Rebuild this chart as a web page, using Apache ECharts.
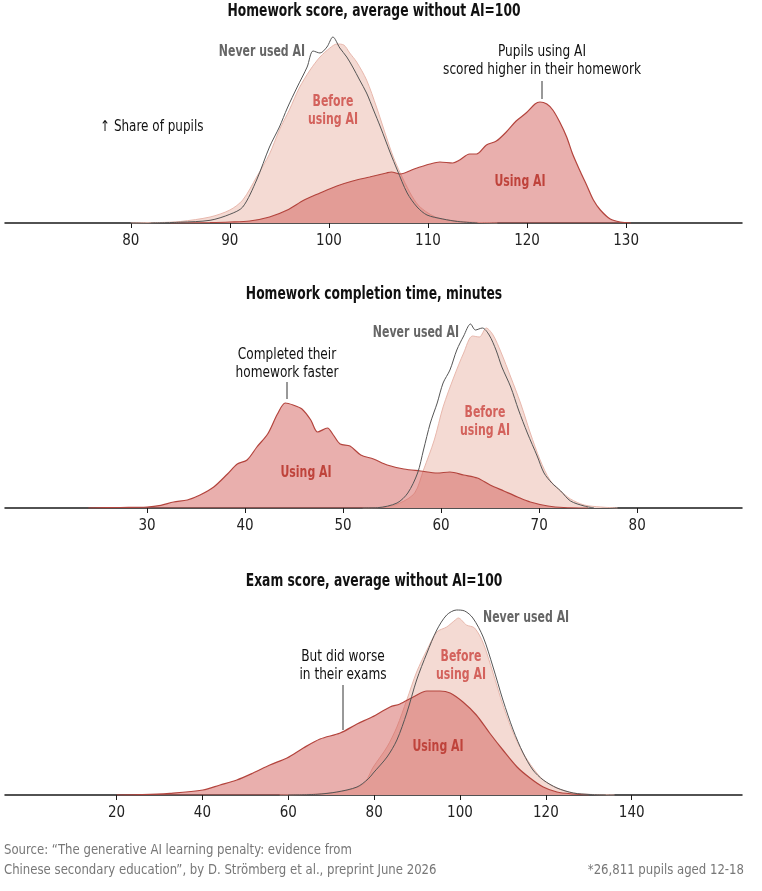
<!DOCTYPE html>
<html>
<head>
<meta charset="utf-8">
<script src="https://cdn.jsdelivr.net/npm/echarts@6/dist/echarts.min.js"></script>
<style>
  html, body { margin: 0; padding: 0; background: #fff; }
  #main { width: 762px; height: 891px; }
</style>
</head>
<body>
<div id="main"></div>
<script>
// ---- data: [value, share of pupils (relative)] ----

// Homework score
var hwScoreTicks = [80, 90, 100, 110, 120, 130];
var hwScoreNever = [[82,0],[85,0.8],[88,2.7],[90,8.7],[91.3,16],[92.7,43],[94,76],[95,96],[95.8,115],[96.8,136],[97.8,156],[98.4,172],[99.1,170],[99.8,176],[100.4,186],[101.1,175],[101.8,166],[102.4,156],[103.1,143],[103.8,130],[104.5,113],[105.2,96],[106.2,70],[106.9,53],[107.9,30],[108.9,16],[109.9,8],[111.5,4],[113,1.5],[115,0]];
var hwScoreBefore = [[80,0],[83,0.5],[85,1.5],[88,6],[90,13],[91.3,23],[92.7,46],[94,69],[95,93],[96,113],[97,135],[98.1,153],[99.1,166],[100.1,175],[100.8,179],[101.5,178],[102.1,170],[102.8,161],[103.8,143],[104.8,116],[105.8,86],[106.5,66],[107.2,50],[108.2,30],[109,18],[110,10],[111,5],[112,3],[114,1],[117,0]];
var hwScoreUsing = [[84,0],[88,0.5],[90,1],[92,2],[94,6],[95.8,13],[97.5,23],[99.1,30],[100.8,37],[102.4,42],[104.1,46],[105.8,50],[106.3,51],[107.2,49],[108.6,54],[110.2,59],[111.2,61],[112.5,60],[113.2,63],[114.2,69],[114.9,69],[115.9,78],[116.9,82],[117.9,91],[118.9,102],[119.9,110],[120.8,119],[121.3,121],[122,119],[122.6,113],[123.3,101],[124,86],[124.6,69],[125.4,51],[126.1,36],[126.7,23],[127.4,13],[128.4,4],[129.4,1],[130.5,0]];

// Homework completion time
var hwTimeTicks = [30, 40, 50, 60, 70, 80];
var hwTimeNever = [[52,0],[53.5,0.3],[55.5,5],[56.6,15],[57.6,35],[58.2,58],[58.9,85],[59.6,105],[60.2,125],[60.9,138],[61.6,158],[62.3,172],[63,184],[63.5,178],[64.2,180],[64.9,173],[65.6,158],[66.2,141],[67.1,121],[67.9,98],[68.8,75],[69.8,52],[70.5,35],[71.3,25],[72.2,17],[73.2,7],[74.6,2],[75.6,0]];
var hwTimeBefore = [[52,0],[54,0.5],[55.8,5],[57.3,15],[58.2,38],[59.3,68],[60.2,101],[61.3,131],[62.3,155],[63.2,172],[63.9,171],[64.6,180],[65.3,173],[66.1,156],[67.1,131],[68.1,105],[69.1,75],[70.1,48],[71.1,28],[72.2,17],[73.2,9],[74.6,3],[76.3,1],[78,0]];
var hwTimeUsing = [[24,0],[27.3,0.5],[30,1],[31.4,2.7],[32.7,6],[34.1,8],[35.4,13],[36.8,21],[38.2,34],[39.2,44],[40.2,48],[41.2,61],[42.3,74],[43.3,94],[44.1,105],[44.9,103],[45.8,99],[46.7,88],[47.4,76],[48.4,80],[49,73],[49.7,64],[50.7,62],[51.8,53],[53.1,49],[54.5,43],[56.2,39],[57.9,37],[59.6,35],[60.9,36],[62.3,33],[63.7,30],[65,23],[66.4,17],[67.8,11],[69.1,6],[70.9,2],[72.5,0.5],[75,0]];

// Exam score
var examTicks = [20, 40, 60, 80, 100, 120, 140];
var examNever = [[60,0],[66.7,0.7],[71.3,3],[76,8],[78.6,16],[79.8,22],[83,38],[85.3,55],[87.6,82],[89.9,115],[92.3,142],[94.6,165],[96.9,180],[99.2,185],[101.1,184],[103,177],[105.4,158],[107.7,128],[110,95],[112.4,65],[114.7,42],[117,25],[119.4,15],[122.6,7],[126.4,2],[130.3,0.5],[134,0]];
var examBefore = [[58,0],[66.7,1],[73,4],[77.5,11],[79.8,28],[83,48],[85.3,68],[87.6,95],[89.9,123],[92.3,145],[94.6,163],[96.9,168],[98.9,175],[99.6,177],[101.5,170],[103.4,167],[105.4,152],[107.7,122],[110,90],[112.4,62],[114.7,42],[117,27],[119.4,15],[122.6,7],[126.4,2],[131,0.5],[136,0]];
var examUsing = [[20,0],[26,0.3],[32.4,1.7],[40.1,5],[44.1,10],[48,15],[51.8,22],[55.7,30],[59.7,37],[63.5,47],[67.4,56],[72.1,62],[76,71],[79.5,78],[83.7,88],[86,91],[89.1,98],[92.3,104],[95.3,104],[97.7,102],[100.7,93],[103.8,80],[106.9,62],[110,45],[113.3,28],[116.3,17],[119.4,8],[122.6,3],[126.4,1],[130,0]];

var titles = ['Homework score, average without AI=100', 'Homework completion time, minutes', 'Exam score, average without AI=100'];

// ---- chart ----
var FONT = '"Liberation Sans Narrow", "DejaVu Sans Condensed", Roboto, sans-serif';
var myChart = echarts.init(document.getElementById('main'), null, { renderer: 'canvas' });

// 面板布局
var panels = [
	{ top: 23, bottom: 668, min: 67.3, max: 141.7, ticks: hwScoreTicks, never: hwScoreNever, before: hwScoreBefore, using: hwScoreUsing, titleY: 12 },
	{ top: 308, bottom: 383, min: 15.5, max: 90.7, ticks: hwTimeTicks, never: hwTimeNever, before: hwTimeBefore, using: hwTimeUsing, titleY: 295 },
	{ top: 595, bottom: 96, min: -6, max: 165.7, ticks: examTicks, never: examNever, before: examBefore, using: examUsing, titleY: 582 }
];

var grid = [], xAxis = [], yAxis = [], series = [];

panels.forEach(function(p, i) {
	grid.push({ left: 5, right: 20, top: p.top, bottom: p.bottom });
	xAxis.push({
		type: 'value', gridIndex: i, min: p.min, max: p.max,
		axisLine: { lineStyle: { color: '#1a1a1a', width: 1.5 } },
		axisTick: { show: true, customValues: p.ticks, length: 5, lineStyle: { color: '#1a1a1a', width: 1 } },
		axisLabel: { customValues: p.ticks, fontFamily: FONT, fontSize: 15, color: '#222', margin: 11 },
		splitLine: { show: false }
	});
	yAxis.push({ type: 'value', gridIndex: i, min: 0, max: 200, show: false });

	series.push({
		name: 'Before using AI', type: 'line', xAxisIndex: i, yAxisIndex: i,
		data: p.before, showSymbol: false, smooth: 0.3, z: 1,
		lineStyle: { color: '#e7b7ac', width: 1 },
		areaStyle: { color: '#f4dad3', opacity: 1 }
	});
	series.push({
		name: 'Using AI', type: 'line', xAxisIndex: i, yAxisIndex: i,
		data: p.using, showSymbol: false, smooth: 0.3, z: 2,
		lineStyle: { color: '#b3443d', width: 1.2 },
		areaStyle: { color: 'rgba(208, 88, 84, 0.48)', opacity: 1 }
	});
	series.push({
		name: 'Never used AI', type: 'line', xAxisIndex: i, yAxisIndex: i,
		data: p.never, showSymbol: false, smooth: 0.3, z: 3,
		lineStyle: { color: '#555', width: 1 }
	});
});

// 标注文字 (横向压缩, 模拟窄体字)
function txt(x, y, text, color, weight, align, size, sx) {
	return {
		type: 'text', x: x, y: y, z: 10, scaleX: sx || 1,
		style: {
			text: text, fill: color,
			font: weight + ' ' + (size || 15) + 'px ' + FONT,
			align: align, verticalAlign: 'middle',
			textAlign: align, textVerticalAlign: 'middle'
		}
	};
}

function leader(x, y1, y2) {
	return { type: 'line', z: 10, shape: { x1: x, y1: y1, x2: x, y2: y2 }, style: { stroke: '#333', lineWidth: 1 } };
}

var GRAY = '#666', BEFORE = '#d3625c', USING = '#bf433b', INK = '#111', NOTE = '#777';
var SB = 0.81, SN = 0.9, SF = 0.93;

var graphic = [];
panels.forEach(function(p, i) {
	graphic.push(txt(374, p.titleY, titles[i], INK, 'bold', 'center', 17, 0.805));
});

graphic = graphic.concat([
	// panel 1
	txt(305, 52, 'Never used AI', GRAY, 'bold', 'right', 15, SB),
	txt(333, 102, 'Before', BEFORE, 'bold', 'center', 15, SB),
	txt(333, 120, 'using AI', BEFORE, 'bold', 'center', 15, SB),
	txt(520, 182, 'Using AI', USING, 'bold', 'center', 15, SB),
	txt(100, 127, '↑ Share of pupils', INK, 'normal', 'left', 15, 0.89),
	txt(542, 52, 'Pupils using AI', INK, 'normal', 'center', 15, SN),
	txt(542, 70, 'scored higher in their homework', INK, 'normal', 'center', 15, SN),
	leader(542, 81, 99),
	// panel 2
	txt(459, 333, 'Never used AI', GRAY, 'bold', 'right', 15, SB),
	txt(287, 355, 'Completed their', INK, 'normal', 'center', 15, SN),
	txt(287, 373, 'homework faster', INK, 'normal', 'center', 15, SN),
	leader(287, 382, 399),
	txt(485, 413, 'Before', BEFORE, 'bold', 'center', 15, SB),
	txt(485, 431, 'using AI', BEFORE, 'bold', 'center', 15, SB),
	txt(306, 473, 'Using AI', USING, 'bold', 'center', 15, SB),
	// panel 3
	txt(483, 618, 'Never used AI', GRAY, 'bold', 'left', 15, SB),
	txt(343, 657, 'But did worse', INK, 'normal', 'center', 15, SN),
	txt(343, 675, 'in their exams', INK, 'normal', 'center', 15, SN),
	leader(343, 685, 730),
	txt(461, 657, 'Before', BEFORE, 'bold', 'center', 15, SB),
	txt(461, 675, 'using AI', BEFORE, 'bold', 'center', 15, SB),
	txt(438, 747, 'Using AI', USING, 'bold', 'center', 15, SB),
	// footer
	txt(4, 850, 'Source: \u201cThe generative AI learning penalty: evidence from', NOTE, 'normal', 'left', 14, SF),
	txt(4, 870, 'Chinese secondary education\u201d, by D. Str\u00f6mberg et al., preprint June 2026', NOTE, 'normal', 'left', 14, SF),
	txt(744, 870, '*26,811 pupils aged 12-18', NOTE, 'normal', 'right', 14, SF)
]);

var option = {
	animation: false,
	backgroundColor: '#fff',
	grid: grid,
	xAxis: xAxis,
	yAxis: yAxis,
	series: series,
	graphic: graphic
};

myChart.setOption(option);
</script>
</body>
</html>
